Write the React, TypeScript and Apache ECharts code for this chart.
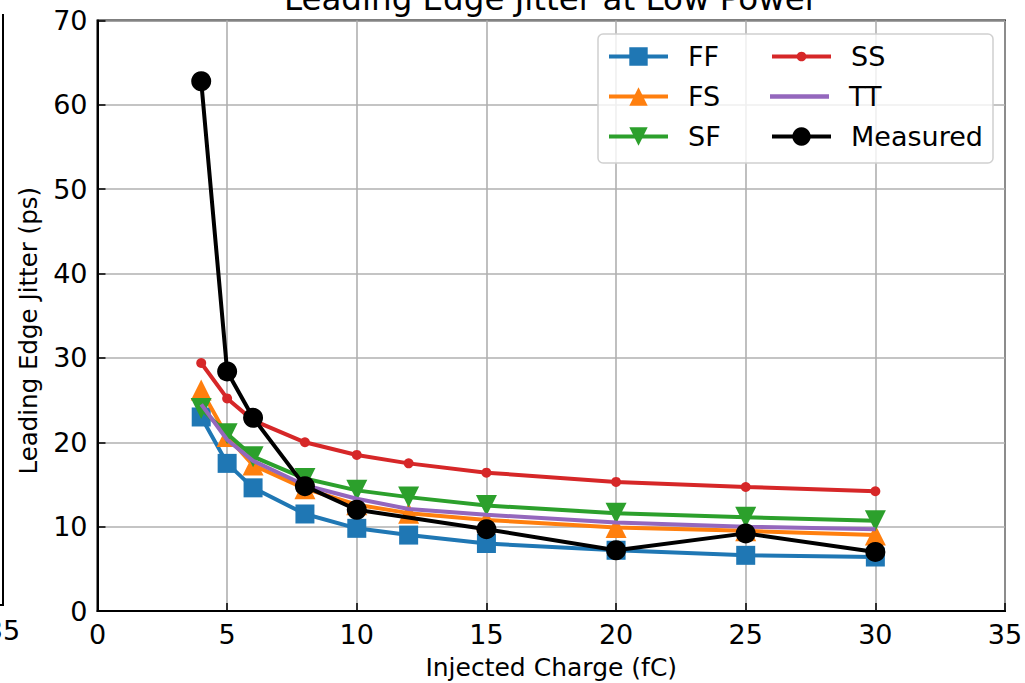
import React, { useEffect, useRef } from "react";
import * as echarts from "echarts";

const titleText = "Leading Edge Jitter at Low Power";
const xAxisName = "Injected Charge (fC)";
const yAxisName = "Leading Edge Jitter (ps)";

const charge = [4, 5, 6, 8, 10, 12, 15, 20, 25, 30];
const ffJitter = [23.0, 17.5, 14.6, 11.5, 9.8, 9.0, 8.0, 7.2, 6.6, 6.4];
const fsJitter = [26.2, 20.7, 17.3, 14.5, 12.6, 11.6, 10.8, 9.9, 9.5, 9.0];
const sfJitter = [24.0, 21.0, 18.3, 15.7, 14.3, 13.5, 12.5, 11.6, 11.1, 10.7];
const ssJitter = [29.4, 25.2, 22.6, 20.0, 18.5, 17.5, 16.4, 15.3, 14.7, 14.2];
const ttJitter = [24.5, 20.3, 17.8, 14.9, 13.3, 12.1, 11.4, 10.5, 10.0, 9.7];

const measuredCharge = [4, 5, 6, 8, 10, 15, 20, 25, 30];
const measuredJitter = [62.8, 28.4, 22.9, 14.8, 12.0, 9.7, 7.2, 9.2, 7.0];

const seriesNames = ["FF", "FS", "SF", "SS", "TT", "Measured"];
const seriesColors = ["#1f77b4", "#ff7f0e", "#2ca02c", "#d62728", "#9467bd", "#000000"];

const FONT = "DejaVu Sans";

function zip(xs: number[], ys: number[]) {
  return xs.map((x, i) => [x, ys[i]]);
}

export default function App() {
  const ref = useRef<HTMLDivElement>(null);

  useEffect(() => {
    document.body.style.margin = "0";
    const chart = echarts.init(ref.current!, null, { renderer: "svg" });

    const dataSets = [
      zip(charge, ffJitter),
      zip(charge, fsJitter),
      zip(charge, sfJitter),
      zip(charge, ssJitter),
      zip(charge, ttJitter),
      zip(measuredCharge, measuredJitter),
    ];
    const symbols = ["rect", "triangle", "triangle", "circle", "none", "circle"];
    const symbolSizes = [19, 21, 21, 10, 0, 20];
    const rotations = [0, 0, 180, 0, 0, 0];

    const series = seriesNames.map((name, i) => ({
      name,
      type: "line",
      data: dataSets[i],
      symbol: symbols[i],
      symbolSize: symbolSizes[i],
      symbolRotate: rotations[i],
      showSymbol: symbols[i] !== "none",
      color: seriesColors[i],
      lineStyle: { color: seriesColors[i], width: 4 },
      itemStyle: { color: seriesColors[i], borderWidth: 0 },
      emphasis: { disabled: true },
      z: 3 + i,
    }));

    const colLeft = [607, 770];
    const rowCenter = [56, 96, 136];
    const legends = seriesNames.map((name, i) => {
      const col = i < 3 ? 0 : 1;
      const row = i % 3;
      const ih = name === "SS" ? 12 : 23;
      const item: any = name === "TT" ? { name, icon: "path://M0,0h60v4.5h-60z" } : { name };
      return {
        data: [item],
        left: colLeft[col],
        top: rowCenter[row] - 13,
        padding: 0,
        itemWidth: 59,
        itemHeight: ih,
        selectedMode: false,
        z: 20,
        lineStyle: { width: 4 },
        textStyle: {
          fontFamily: FONT,
          fontSize: 27,
          color: "#000",
          padding: [0, 0, 0, 15],
        },
      };
    });

    chart.setOption({
      animation: false,
      grid: {
        left: 97.5,
        top: 20.5,
        right: 20,
        bottom: 72,
        outerBoundsMode: "none",
        containLabel: false,
        show: true,
        borderColor: "#000",
        borderWidth: 2,
        backgroundColor: "transparent",
      },
      legend: legends,
      xAxis: {
        type: "value",
        min: 0,
        max: 35,
        interval: 5,
        name: xAxisName,
        nameLocation: "middle",
        nameGap: 44,
        nameTextStyle: { fontFamily: FONT, fontSize: 25, color: "#000" },
        axisLine: { show: true, lineStyle: { color: "#000", width: 2 } },
        axisTick: { show: true, inside: true, length: 8, lineStyle: { color: "#000", width: 1.5 } },
        axisLabel: { fontFamily: FONT, fontSize: 27, color: "#000", margin: 10 },
        splitLine: { show: true, lineStyle: { color: "#b0b0b0", width: 1.6 } },
      },
      yAxis: {
        type: "value",
        min: 0,
        max: 70,
        interval: 10,
        name: yAxisName,
        nameLocation: "middle",
        nameGap: 57,
        nameTextStyle: {
          fontFamily: FONT,
          fontSize: 24.5,
          color: "#000",
          padding: [0, 30, 0, 0],
        },
        axisLine: { show: true, lineStyle: { color: "#000", width: 2 } },
        axisTick: { show: true, inside: true, length: 8, lineStyle: { color: "#000", width: 1.5 } },
        axisLabel: { fontFamily: FONT, fontSize: 27, color: "#000", margin: 10 },
        splitLine: { show: true, lineStyle: { color: "#b0b0b0", width: 1.6 } },
      },
      graphic: [
        {
          type: "text",
          z: 10,
          style: {
            text: titleText,
            x: 551,
            y: 15,
            textAlign: "center",
            textVerticalAlign: "bottom",
            fontFamily: FONT,
            fontSize: 32.5,
            fill: "#000",
          },
        },
        {
          type: "rect",
          z: 15,
          shape: { x: 598, y: 34, width: 395, height: 129, r: 5 },
          style: { fill: "rgba(255,255,255,0.8)", stroke: "#d0d0d0", lineWidth: 1.5 },
        },
        {
          type: "line",
          z: 10,
          shape: { x1: 3, y1: 14, x2: 3, y2: 605 },
          style: { stroke: "#000", lineWidth: 2 },
        },
        {
          type: "line",
          z: 10,
          shape: { x1: 0, y1: 605, x2: 4, y2: 605 },
          style: { stroke: "#000", lineWidth: 2 },
        },
        {
          type: "text",
          z: 10,
          style: {
            text: "35",
            x: 3,
            y: 617,
            textAlign: "center",
            textVerticalAlign: "top",
            fontFamily: FONT,
            fontSize: 27,
            fill: "#000",
          },
        },
      ],
      series,
    });

    return () => chart.dispose();
  }, []);

  return (
    <div
      ref={ref}
      style={{ position: "fixed", left: 0, top: 0, width: 1025, height: 683, background: "#fff" }}
    />
  );
}
